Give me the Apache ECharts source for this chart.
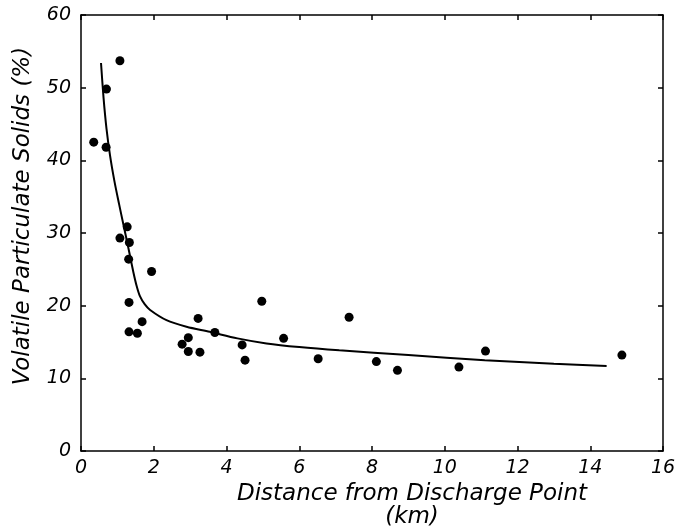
<!DOCTYPE html>
<html>
<head>
<meta charset="utf-8">
<script src="https://cdn.jsdelivr.net/npm/echarts@6/dist/echarts.min.js"></script>
<style>html,body{margin:0;padding:0;background:#fff;}#c{width:679px;height:531px;}</style>
</head>
<body>
<div id="c"></div>
<script>
// Observed samples: [distance km, volatile solids %]
const samplePoints = [
  [0.35, 42.5], [0.70, 49.8], [0.69, 41.8], [1.07, 53.7],
  [1.07, 29.3], [1.27, 30.85], [1.33, 28.7], [1.31, 26.4],
  [1.32, 20.45], [1.32, 16.4], [1.55, 16.2], [1.68, 17.8],
  [1.94, 24.7], [2.78, 14.7], [2.95, 15.6], [2.95, 13.7],
  [3.22, 18.25], [3.27, 13.6], [3.68, 16.3], [4.43, 14.6],
  [4.51, 12.5], [4.97, 20.6], [5.57, 15.5], [6.52, 12.7],
  [7.37, 18.4], [8.12, 12.3], [8.70, 11.1], [10.39, 11.55],
  [11.12, 13.75], [14.87, 13.2]
];
// Fitted curve
const fitCurve = [
  [0.55, 53.4], [0.62, 48.6], [0.70, 44.4], [0.80, 40.6], [0.92, 37.1],
  [1.05, 33.9], [1.16, 31.3], [1.30, 28.0], [1.44, 24.6], [1.53, 22.7],
  [1.62, 21.3], [1.75, 20.2], [1.90, 19.4], [2.35, 18.0], [2.90, 17.1],
  [3.54, 16.4], [4.30, 15.5], [5.10, 14.8], [6.00, 14.3], [7.10, 13.85],
  [9.00, 13.2], [11.10, 12.5], [13.00, 12.0], [14.45, 11.7]
];
const xTitle = 'Distance from Discharge Point\n(km)';
const yTitle = 'Volatile Particulate Solids (%)';

const FONT = 'DejaVu Sans';
const chart = echarts.init(document.getElementById('c'), null, {renderer: 'canvas'});
const lineStyle = {color: '#000', width: 1.5};
chart.setOption({
  backgroundColor: '#fff',
  animation: false,
  grid: {left: 81, right: 16, top: 15, bottom: 80, containLabel: false, outerBoundsMode: 'none'},
  xAxis: [{
    type: 'value', min: 0, max: 16, interval: 2, position: 'bottom',
    axisLine: {show: true, onZero: false, lineStyle: lineStyle},
    axisTick: {show: true, inside: true, length: 5, lineStyle: lineStyle},
    splitLine: {show: false},
    axisLabel: {color: '#000', fontFamily: FONT, fontStyle: 'italic', fontSize: 19, margin: 8},
    name: xTitle, nameLocation: 'middle', nameGap: 30,
    nameTextStyle: {color: '#000', fontFamily: FONT, fontStyle: 'italic', fontSize: 23, lineHeight: 23, padding: [0, 0, 0, 80]}
  }, {
    type: 'value', min: 0, max: 16, interval: 2, position: 'top',
    axisLine: {show: true, onZero: false, lineStyle: lineStyle},
    axisTick: {show: true, inside: true, length: 5, lineStyle: lineStyle},
    splitLine: {show: false}, axisLabel: {show: false}
  }],
  yAxis: [{
    type: 'value', min: 0, max: 60, interval: 10, position: 'left',
    axisLine: {show: true, onZero: false, lineStyle: lineStyle},
    axisTick: {show: true, inside: true, length: 5, lineStyle: lineStyle},
    splitLine: {show: false},
    axisLabel: {color: '#000', fontFamily: FONT, fontStyle: 'italic', fontSize: 19, margin: 10},
    name: yTitle, nameLocation: 'middle', nameGap: 46, nameRotate: 90,
    nameTextStyle: {color: '#000', fontFamily: FONT, fontStyle: 'italic', fontSize: 23, padding: [0, 0, 0, 34]}
  }, {
    type: 'value', min: 0, max: 60, interval: 10, position: 'right',
    axisLine: {show: true, onZero: false, lineStyle: lineStyle},
    axisTick: {show: true, inside: true, length: 5, lineStyle: lineStyle},
    splitLine: {show: false}, axisLabel: {show: false}
  }],
  series: [{
    type: 'line', data: fitCurve, smooth: 0.3, showSymbol: false,
    lineStyle: {color: '#000', width: 2}, xAxisIndex: 0, yAxisIndex: 0, z: 2
  }, {
    type: 'scatter', data: samplePoints, symbol: 'circle', symbolSize: 9,
    itemStyle: {color: '#000', opacity: 1}, xAxisIndex: 0, yAxisIndex: 0, z: 3
  }]
});
</script>
</body>
</html>
